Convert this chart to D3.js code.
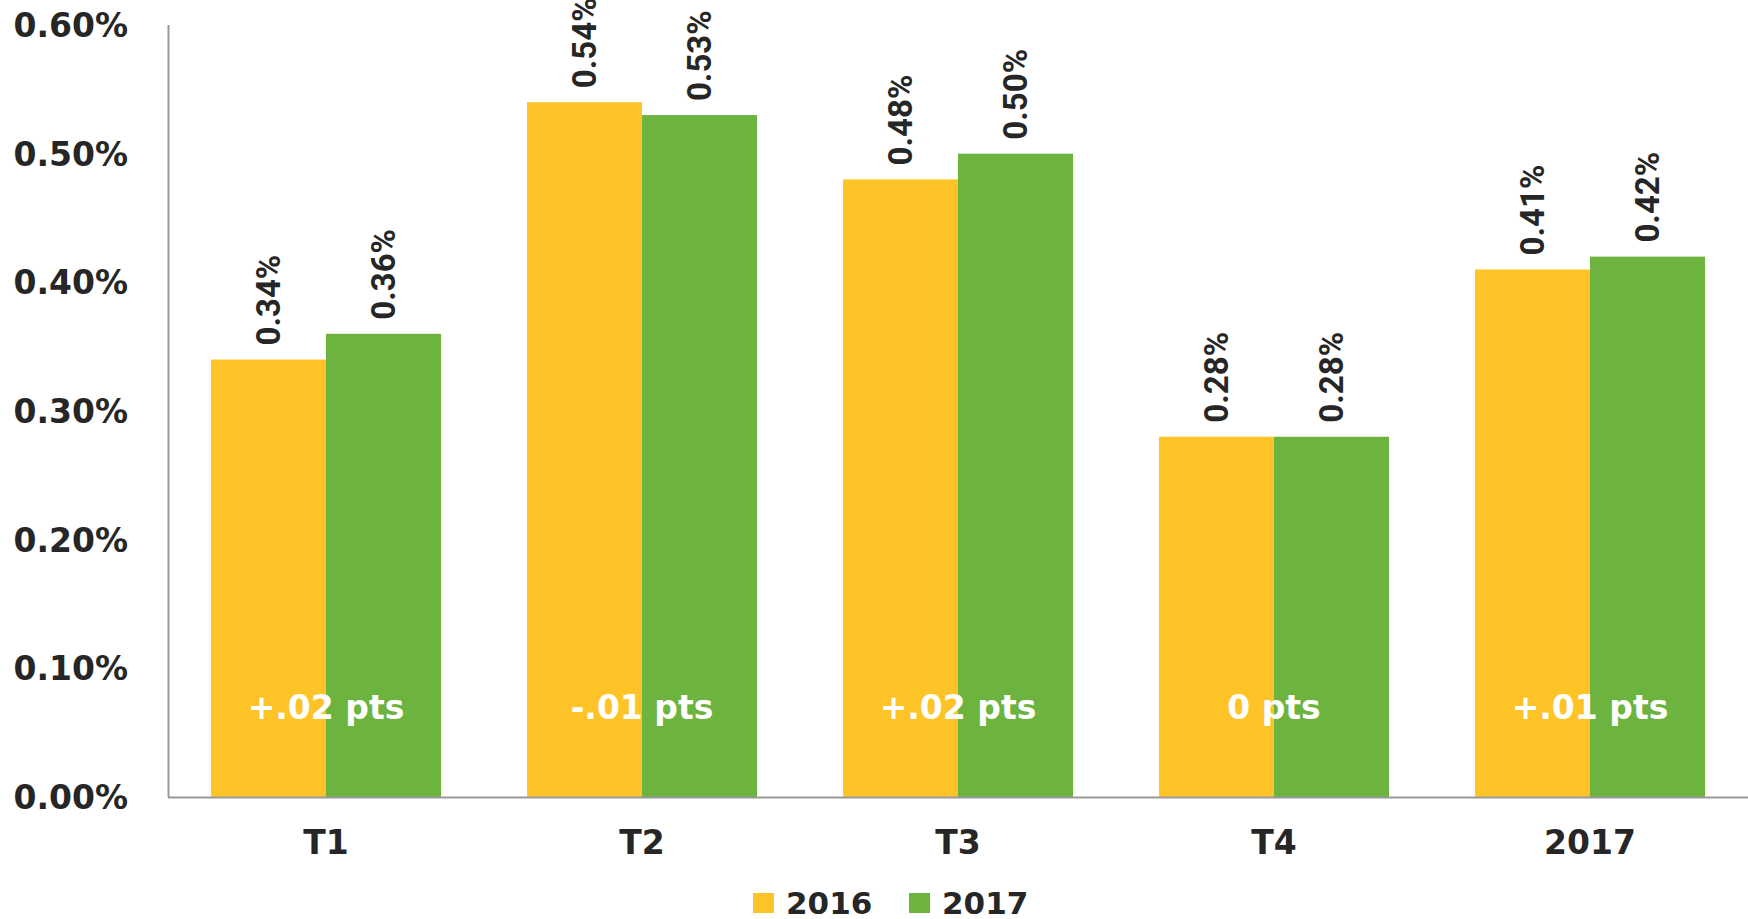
<!DOCTYPE html>
<html>
<head>
<meta charset="utf-8">
<script src="https://cdn.jsdelivr.net/npm/d3@7"></script>
<style>
  body { margin: 0; background: #fff; }
  svg { display: block; }
</style>
</head>
<body>
<svg width="1748" height="919"></svg>
<script>
// chart data
var categories = ["T1", "T2", "T3", "T4", "2017"];
var years = ["2016", "2017"];
var values2016 = [0.34, 0.54, 0.48, 0.28, 0.41];
var values2017 = [0.36, 0.53, 0.50, 0.28, 0.42];
var diffLabels = ["+.02 pts", "-.01 pts", "+.02 pts", "0 pts", "+.01 pts"];
var yTicks = [0, 0.1, 0.2, 0.3, 0.4, 0.5, 0.6];

var colors = { "2016": "#FEC427", "2017": "#6DB33F" };
var textCol = "#262626";
var boldFont = "'DejaVu Sans', sans-serif";

var svg = d3.select("svg"),
    width = +svg.attr("width"),
    height = +svg.attr("height");

// plot area (note: "top" is taken by window.top)
var plotLeft = 168, plotRight = 1748, plotTop = 25, plotBottom = 797;

var x0 = d3.scaleBand()
    .domain(categories)
    .range([plotLeft, plotRight])
    .paddingInner(0.272)
    .paddingOuter(0.136);

var x1 = d3.scaleBand()
    .domain(years)
    .range([0, x0.bandwidth()]);

var y = d3.scaleLinear()
    .domain([0, 0.6])
    .range([plotBottom, plotTop]);

var rows = categories.map(function(c, i) {
  return { cat: c, diff: diffLabels[i], vals: [
    { year: "2016", v: values2016[i] },
    { year: "2017", v: values2017[i] }
  ]};
});

// y axis labels
svg.append("g").selectAll("text")
  .data(yTicks)
  .enter().append("text")
    .attr("x", 128)
    .attr("y", function(d) { return y(d); })
    .attr("dy", "0.36em")
    .attr("text-anchor", "end")
    .style("font-family", boldFont)
    .style("font-weight", "bold")
    .style("font-size", "33px")
    .style("fill", textCol)
    .text(function(d) { return d.toFixed(2) + "%"; });

// bars
var groups = svg.append("g").selectAll("g")
  .data(rows)
  .enter().append("g")
    .attr("transform", function(d) { return "translate(" + x0(d.cat) + ",0)"; });

groups.selectAll("rect")
  .data(function(d) { return d.vals; })
  .enter().append("rect")
    .attr("x", function(d) { return x1(d.year); })
    .attr("y", function(d) { return y(d.v); })
    .attr("width", x1.bandwidth())
    .attr("height", function(d) { return plotBottom - y(d.v); })
    .attr("fill", function(d) { return colors[d.year]; });

// rotated value labels
groups.selectAll("text.val")
  .data(function(d) { return d.vals; })
  .enter().append("text")
    .attr("class", "val")
    .attr("transform", function(d) {
      return "translate(" + (x1(d.year) + x1.bandwidth() / 2) + "," + (y(d.v) - 14) + ") rotate(-90)";
    })
    .attr("dy", "0.36em")
    .attr("text-anchor", "start")
    .style("font-family", "Roboto, sans-serif")
    .style("font-weight", "bold")
    .style("font-size", "33px")
    .style("fill", textCol)
    .text(function(d) { return d.v.toFixed(2) + "%"; });

// difference annotations
groups.append("text")
    .attr("x", x0.bandwidth() / 2)
    .attr("y", 707)
    .attr("dy", "0.36em")
    .attr("text-anchor", "middle")
    .style("font-family", boldFont)
    .style("font-weight", "bold")
    .style("font-size", "33px")
    .style("fill", "#fff")
    .text(function(d) { return d.diff; });

// axes lines
svg.append("line")
    .attr("x1", plotLeft + 0.5).attr("x2", plotLeft + 0.5)
    .attr("y1", plotTop).attr("y2", plotBottom)
    .attr("stroke", "#999").attr("stroke-width", 2);
svg.append("line")
    .attr("x1", plotLeft).attr("x2", plotRight)
    .attr("y1", plotBottom + 0.5).attr("y2", plotBottom + 0.5)
    .attr("stroke", "#999").attr("stroke-width", 2);

// category labels
svg.append("g").selectAll("text")
  .data(categories)
  .enter().append("text")
    .attr("x", function(d) { return x0(d) + x0.bandwidth() / 2; })
    .attr("y", 842)
    .attr("dy", "0.36em")
    .attr("text-anchor", "middle")
    .style("font-family", boldFont)
    .style("font-weight", "bold")
    .style("font-size", "33px")
    .style("fill", textCol)
    .text(function(d) { return d; });

// legend
var legendX = [753, 909];
var legend = svg.append("g").selectAll("g")
  .data(years)
  .enter().append("g")
    .attr("transform", function(d, i) { return "translate(" + legendX[i] + ",893)"; });
legend.append("rect")
    .attr("width", 21).attr("height", 20)
    .attr("fill", function(d) { return colors[d]; });
legend.append("text")
    .attr("x", 33)
    .attr("y", 10)
    .attr("dy", "0.36em")
    .style("font-family", boldFont)
    .style("font-weight", "bold")
    .style("font-size", "31px")
    .style("fill", textCol)
    .text(function(d) { return d; });
</script>
</body>
</html>
